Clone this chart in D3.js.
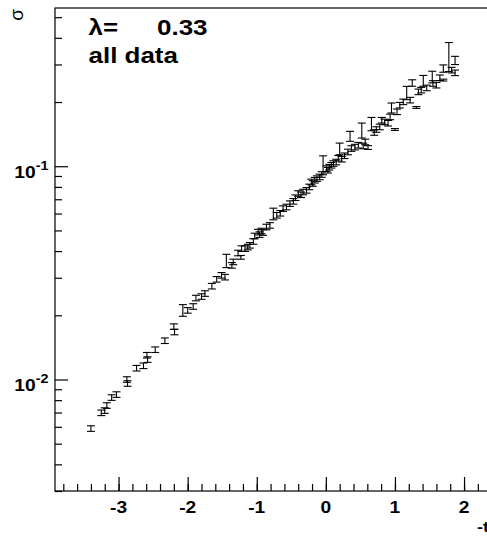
<!DOCTYPE html>
<html>
<head>
<meta charset="utf-8">
<script src="https://cdn.jsdelivr.net/npm/d3@7"></script>
<style>
  body { margin: 0; background: #fff; }
  svg { display: block; }
</style>
</head>
<body>
<svg id="sigma-chart" width="487" height="536"></svg>
<script>
// measured points: -t, sigma, and the upper / lower error in percent of sigma
const tVals = [
  -3.40, -3.25, -3.20, -3.17, -3.10, -3.03, -2.88, -2.87, -2.74, -2.64,
  -2.59, -2.58, -2.47, -2.33, -2.20, -2.19, -2.07, -2.00, -1.92, -1.88,
  -1.80, -1.75, -1.65, -1.58, -1.51, -1.46, -1.44, -1.36, -1.34, -1.27,
  -1.23, -1.22, -1.17, -1.13, -1.10, -1.05, -1.03, -0.98, -0.96, -0.93,
  -0.91, -0.86, -0.81, -0.76, -0.71, -0.66, -0.62, -0.57, -0.52, -0.47,
  -0.44, -0.40, -0.36, -0.33, -0.28, -0.24, -0.21, -0.19, -0.16, -0.13,
  -0.09, -0.06, -0.04, 0.01, 0.03, 0.05, 0.08, 0.11, 0.15, 0.18,
  0.20, 0.23, 0.27, 0.32, 0.35, 0.37, 0.42, 0.47, 0.52, 0.54,
  0.57, 0.61, 0.66, 0.70, 0.73, 0.78, 0.81, 0.85, 0.90, 0.93,
  0.95, 1.00, 1.03, 1.07, 1.12, 1.17, 1.22, 1.25, 1.31, 1.34,
  1.38, 1.41, 1.46, 1.54, 1.55, 1.60, 1.65, 1.70, 1.70, 1.78,
  1.82, 1.87, 1.87
];
const sigmaVals = [
  0.00589, 0.00698, 0.00715, 0.00755, 0.00823, 0.00850, 0.0100, 0.00958, 0.0113, 0.0116,
  0.0130, 0.0124, 0.0138, 0.0152, 0.0177, 0.0167, 0.0204, 0.0211, 0.0220, 0.0241,
  0.0245, 0.0253, 0.0274, 0.0295, 0.0308, 0.0302, 0.0345, 0.0343, 0.0356, 0.0392,
  0.0374, 0.0411, 0.0411, 0.0418, 0.0426, 0.0444, 0.0471, 0.0491, 0.0478, 0.0497,
  0.0489, 0.0519, 0.0528, 0.0578, 0.0589, 0.0602, 0.0633, 0.0644, 0.0668, 0.0685,
  0.0712, 0.0745, 0.0735, 0.0757, 0.0771, 0.0800, 0.0844, 0.0830, 0.0860, 0.0875,
  0.0891, 0.0915, 0.0940, 0.0975, 0.0958, 0.0990, 0.1011, 0.1030, 0.1047, 0.1090,
  0.1167, 0.1079, 0.1120, 0.1167, 0.1349, 0.1211, 0.1230, 0.1255, 0.1398, 0.1245,
  0.1300, 0.1224, 0.1512, 0.1440, 0.1487, 0.1529, 0.1644, 0.1614, 0.1592, 0.1704,
  0.1832, 0.1487, 0.1800, 0.1934, 0.2004, 0.2115, 0.2042, 0.2445, 0.1886, 0.2233,
  0.2274, 0.2445, 0.2330, 0.2535, 0.2445, 0.2400, 0.2600, 0.2535, 0.2844, 0.2925,
  0.2823, 0.2742, 0.3090
];
const errHiPct = [
  3, 3, 3, 3, 3, 3, 3, 3, 3, 3,
  3, 3, 3, 3, 3, 3, 10, 3, 3, 3,
  3, 3, 3, 3, 3, 3, 12, 3, 3, 3,
  2, 3, 3, 3, 3, 3, 3, 3, 3, 3,
  3, 3, 3, 10, 3, 3, 3, 3, 3, 3,
  3, 3, 3, 3, 3, 3, 3, 3, 3, 3,
  3, 3, 19, 3, 3, 3, 3, 3, 3, 3,
  10, 3, 3, 3, 8, 3, 3, 3, 14, 3,
  3, 2, 12, 3, 3, 3, 3, 3, 3, 3,
  8, 1, 3, 3, 3, 12, 3, 4, 1, 3,
  3, 9, 3, 10, 3, 3, 3, 1, 5, 30,
  3, 3, 6
];
const errLoPct = [
  3, 3, 3, 3, 3, 3, 3, 3, 3, 3,
  3, 3, 3, 3, 3, 3, 3, 3, 3, 3,
  3, 3, 3, 3, 3, 3, 3, 3, 3, 3,
  2, 3, 3, 3, 3, 3, 3, 3, 3, 3,
  3, 3, 3, 3, 3, 3, 3, 3, 3, 3,
  3, 3, 3, 3, 3, 3, 3, 3, 3, 3,
  3, 3, 3, 3, 3, 3, 3, 3, 3, 3,
  3, 3, 3, 3, 3, 3, 3, 3, 3, 3,
  3, 2, 3, 3, 3, 3, 3, 3, 3, 3,
  3, 1, 3, 3, 3, 3, 3, 3, 1, 3,
  3, 3, 3, 3, 3, 3, 3, 1, 3, 5,
  3, 3, 3
];

const xMajorTicks = [-3, -2, -1, 0, 1, 2];
const xMinorTicks = d3.range(-3.8, 2.61, 0.2).map((d) => Math.round(d * 10) / 10);
const yMajorTicks = [0.01, 0.1];
const yMajorExp = ["-2", "-1"];
const yMinorTicks = [0.003, 0.004, 0.005, 0.006, 0.007, 0.008, 0.009,
  0.02, 0.03, 0.04, 0.05, 0.06, 0.07, 0.08, 0.09, 0.2, 0.3, 0.4, 0.5];

const lambdaLabel = "λ=";
const lambdaValue = "0.33";
const sampleLabel = "all data";
const yTitle = "σ";
const xTitle = "-t";

const svg = d3.select("#sigma-chart");
const font = "'Liberation Sans', Arial, Helvetica, sans-serif";
const stretch = 1.2;

const frame = { left: 55, right: 505.5, top: 8, bottom: 491 };

const xScale = d3.scaleLinear().domain([-3.92, 2.6]).range([frame.left, frame.right]);
const yScale = d3.scaleLog().domain([0.003, 0.552]).range([frame.bottom, frame.top]);

// frame box
svg.append("rect")
  .attr("x", frame.left)
  .attr("y", frame.top)
  .attr("width", frame.right - frame.left)
  .attr("height", frame.bottom - frame.top)
  .attr("fill", "none")
  .attr("stroke", "#000")
  .attr("stroke-width", 1.2);

// ticks point into the frame
function tickAxis(axis, transform) {
  const g = svg.append("g").attr("transform", transform).call(axis);
  g.select(".domain").remove();
  g.selectAll(".tick line").attr("stroke", "#000").attr("stroke-width", 1.2);
  g.selectAll(".tick text").remove();
  return g;
}

tickAxis(d3.axisBottom(xScale).tickValues(xMinorTicks).tickSize(-7).tickSizeOuter(0),
  `translate(0,${frame.bottom})`);
tickAxis(d3.axisBottom(xScale).tickValues(xMajorTicks).tickSize(-14).tickSizeOuter(0),
  `translate(0,${frame.bottom})`);
tickAxis(d3.axisLeft(yScale).tickValues(yMinorTicks).tickSize(-7).tickSizeOuter(0),
  `translate(${frame.left},0)`);
tickAxis(d3.axisLeft(yScale).tickValues(yMajorTicks).tickSize(-13).tickSizeOuter(0),
  `translate(${frame.left},0)`);

// x tick labels
svg.append("g")
  .selectAll("text")
  .data(xMajorTicks)
  .join("text")
  .attr("transform", (d) => `translate(${xScale(d)},512.5) scale(${stretch},1)`)
  .attr("text-anchor", "middle")
  .attr("font-family", font)
  .attr("font-weight", "bold")
  .attr("font-size", 16)
  .text((d) => d);

// y tick labels, 10 with a superscript exponent
const yLabels = svg.append("g")
  .selectAll("text")
  .data(yMajorTicks)
  .join("text")
  .attr("transform", (d) => `translate(48.5,${yScale(d) + 11.5}) scale(${stretch},1)`)
  .attr("text-anchor", "end")
  .attr("font-family", font)
  .attr("font-weight", "bold")
  .attr("font-size", 16);
yLabels.append("tspan").text("10");
yLabels.append("tspan")
  .attr("dy", -8)
  .attr("font-size", 12)
  .text((d, i) => yMajorExp[i]);

// axis titles
svg.append("text")
  .attr("transform", "translate(23,9) rotate(-90)")
  .attr("text-anchor", "end")
  .attr("font-family", font)
  .attr("font-size", 19)
  .text(yTitle);

svg.append("text")
  .attr("transform", `translate(477,532) scale(${stretch},1)`)
  .attr("font-family", font)
  .attr("font-weight", "bold")
  .attr("font-size", 15)
  .text(xTitle);

// header text
function headerText(x, y, s) {
  svg.append("text")
    .attr("transform", `translate(${x},${y}) scale(1.18,1)`)
    .attr("font-family", font)
    .attr("font-weight", "bold")
    .attr("font-size", 22)
    .text(s);
}
headerText(88.5, 35, lambdaLabel);
headerText(157, 35, lambdaValue);
headerText(88.5, 63, sampleLabel);

// error bars
const points = tVals.map((t, i) => ({
  t: t,
  sigma: sigmaVals[i],
  hi: sigmaVals[i] * (1 + errHiPct[i] / 100),
  lo: sigmaVals[i] * (1 - errLoPct[i] / 100),
}));

const capHalf = 4;
const bars = svg.append("g")
  .attr("stroke", "#000")
  .attr("stroke-width", 1.1)
  .selectAll("g")
  .data(points)
  .join("g");

bars.append("line")
  .attr("x1", (d) => xScale(d.t))
  .attr("x2", (d) => xScale(d.t))
  .attr("y1", (d) => yScale(d.hi))
  .attr("y2", (d) => yScale(d.lo));

bars.append("line")
  .attr("x1", (d) => xScale(d.t) - capHalf)
  .attr("x2", (d) => xScale(d.t) + capHalf)
  .attr("y1", (d) => yScale(d.hi))
  .attr("y2", (d) => yScale(d.hi));

bars.append("line")
  .attr("x1", (d) => xScale(d.t) - capHalf)
  .attr("x2", (d) => xScale(d.t) + capHalf)
  .attr("y1", (d) => yScale(d.lo))
  .attr("y2", (d) => yScale(d.lo));
</script>
</body>
</html>
